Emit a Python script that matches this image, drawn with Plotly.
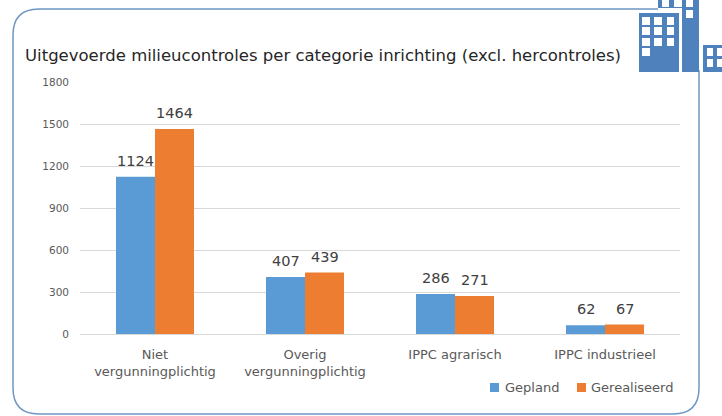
import plotly.graph_objects as go

categories = ["Niet<br>vergunningplichtig", "Overig<br>vergunningplichtig", "IPPC agrarisch", "IPPC industrieel"]
gepland = [1124, 407, 286, 62]
gerealiseerd = [1464, 439, 271, 67]
y_ticks = [0, 300, 600, 900, 1200, 1500, 1800]

W, H = 722, 416
L, R, T, B = 80, 42, 82, 82
FONT = "DejaVu Sans"
BLUE = "#5b9bd5"
ORANGE = "#ed7d31"
ICON = "#4f81bd"
FRAME = "#6f97c4"


def X(p):
    return (p - L) / (W - L - R)


def Y(p):
    return 1 - (p - T) / (H - T - B)


def rect(x0, y0, x1, y1, color):
    return dict(type="rect", xref="paper", yref="paper", x0=X(x0), x1=X(x1), y0=Y(y0), y1=Y(y1),
                fillcolor=color, line=dict(width=0), layer="above")


fig = go.Figure()
fig.add_bar(name="Gepland", x=categories, y=gepland, marker_color=BLUE)
fig.add_bar(name="Gerealiseerd", x=categories, y=gerealiseerd, marker_color=ORANGE)
fig.update_traces(marker_line_width=0)

# rounded frame
r = 26
x0, x1, y0, y1 = 13, 699, 9, 414
frame_path = (f"M {X(658)} {Y(y0)} L {X(x0 + r)} {Y(y0)} Q {X(x0)} {Y(y0)} {X(x0)} {Y(y0 + r)} "
              f"L {X(x0)} {Y(y1 - r)} Q {X(x0)} {Y(y1)} {X(x0 + r)} {Y(y1)} "
              f"L {X(x1 - r)} {Y(y1)} Q {X(x1)} {Y(y1)} {X(x1)} {Y(y1 - r)} L {X(x1)} {Y(70)}")
shapes = [dict(type="path", xref="paper", yref="paper", path=frame_path, line=dict(color=FRAME, width=1.5), layer="below")]

# building icon
shapes += [rect(639, 13, 679, 72, ICON), rect(682, 0, 699, 72, ICON), rect(658, 0, 682, 8, ICON), rect(703, 45, 722, 72, ICON)]
windows = []
for wy0, wy1 in [(17, 25), (27, 35), (38, 46)]:
    for wx0, wx1 in [(642, 650), (654, 662), (667, 674)]:
        windows.append((wx0, wy0, wx1, wy1))
windows += [(642, 48, 650, 56), (686, 10, 693, 18), (662, 0, 669, 7), (674, 0, 682, 7), (686, 0, 693, 7)]
for wy0, wy1 in [(48, 56), (59, 67)]:
    for wx0, wx1 in [(707, 713), (717, 722)]:
        windows.append((wx0, wy0, wx1, wy1))
shapes += [rect(a, b, c, d, "white") for a, b, c, d in windows]

# legend swatches
shapes += [rect(490, 383, 499, 392, BLUE), rect(577, 383, 586, 392, ORANGE)]

annotations = [dict(text="Uitgevoerde milieucontroles per categorie inrichting (excl. hercontroles)",
                    xref="paper", yref="paper", x=X(23), y=Y(56), xanchor="left", yanchor="middle",
                    showarrow=False, font=dict(family=FONT, size=16.5, color="#262626"))]
# legend labels
for label, px in [("Gepland", 504), ("Gerealiseerd", 590)]:
    annotations.append(dict(text=label, xref="paper", yref="paper", x=X(px), y=Y(387), xanchor="left",
                            yanchor="middle", showarrow=False, xshift=-1,
                            font=dict(family=FONT, size=13, color="#595959")))
# data labels anchored to the bar values
for series, shift in [(gepland, -19.5), (gerealiseerd, 19.5)]:
    for cat, val in zip(categories, series):
        annotations.append(dict(text=str(val), x=cat, y=val, xref="x", yref="y", xshift=shift, yshift=6,
                                yanchor="bottom", xanchor="center", showarrow=False,
                                font=dict(family=FONT, size=14.5, color="#404040")))

fig.update_layout(
    width=W, height=H, autosize=False,
    margin=dict(l=L, r=R, t=T, b=B, autoexpand=False),
    paper_bgcolor="white", plot_bgcolor="white",
    barmode="group", bargap=0.48, bargroupgap=0,
    shapes=shapes,
    showlegend=False,
    annotations=annotations,
    xaxis=dict(tickfont=dict(family=FONT, size=13, color="#595959"), showgrid=False, ticks="",
               showline=True, linecolor="#d9d9d9", linewidth=1, automargin=False, ticklabelstandoff=8),
    yaxis=dict(range=[0, 1800], tickvals=y_ticks, tickfont=dict(family=FONT, size=10.5, color="#595959"),
               gridcolor="#d9d9d9", gridwidth=1, zeroline=False, ticks="", ticklen=0, automargin=False,
               ticklabelstandoff=10),
)

fig.write_html("out.html", post_script="document.body.style.margin='0';", config=dict(displayModeBar=False))
